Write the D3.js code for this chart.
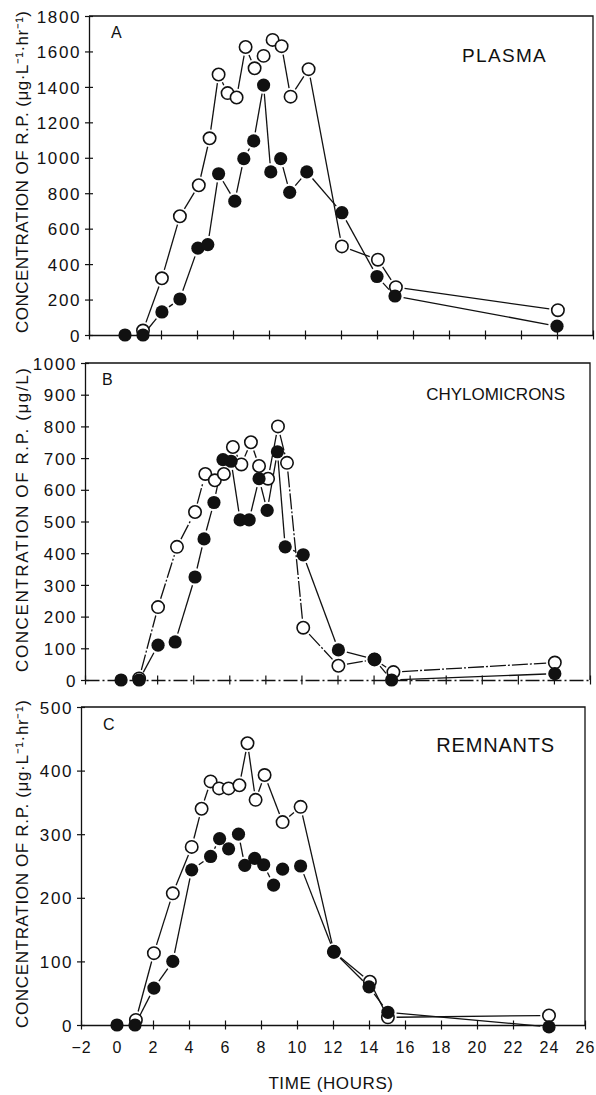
<!DOCTYPE html>
<html>
<head>
<meta charset="utf-8">
<script src="https://cdn.jsdelivr.net/npm/d3@7/dist/d3.min.js"></script>
<style>
  html, body { margin: 0; padding: 0; background: #fff; }
  svg { display: block; }
  text { font-family: "Liberation Sans", Arial, Helvetica, sans-serif; fill: #111; }
</style>
</head>
<body>
<svg id="chart" width="596" height="1095"></svg>
<script>
// ---------------- DATA ----------------
const xTicks = [-2, 0, 2, 4, 6, 8, 10, 12, 14, 16, 18, 20, 22, 24, 26];
const xTickLabels = ["\u22122", "0", "2", "4", "6", "8", "10", "12", "14", "16", "18", "20", "22", "24", "26"];

// Panel A: Plasma
const plasmaTicks = [0, 200, 400, 600, 800, 1000, 1200, 1400, 1600, 1800];
const plasmaOpenT = [1, 2.05, 3.05, 4.1, 4.7, 5.2, 5.7, 6.2, 6.7, 7.2, 7.7, 8.2, 8.7, 9.2, 10.2, 12.05, 14.05, 15.05, 24.05];
const plasmaOpenV = [25, 320, 670, 845, 1110, 1470, 1365, 1340, 1625, 1505, 1575, 1665, 1630, 1345, 1500, 500, 425, 270, 140];
const plasmaFilledT = [0, 1, 2.05, 3.05, 4.05, 4.6, 5.2, 6.1, 6.6, 7.15, 7.7, 8.1, 8.65, 9.15, 10.1, 12.05, 14.0, 15.0, 24.0];
const plasmaFilledV = [0, 0, 130, 203, 490, 510, 910, 755, 995, 1095, 1410, 920, 995, 805, 920, 690, 330, 220, 50];

// Panel B: Chylomicrons
const chyloTicks = [0, 100, 200, 300, 400, 500, 600, 700, 800, 900, 1000];
const chyloOpenT = [1, 2.05, 3.1, 4.1, 4.67, 5.2, 5.7, 6.2, 6.67, 7.2, 7.65, 8.15, 8.7, 9.2, 10.1, 12.05, 14.05, 15.1, 24.05];
const chyloOpenV = [5, 230, 420, 530, 650, 630, 650, 735, 680, 750, 675, 635, 800, 685, 165, 45, 65, 25, 55];
const chyloFilledT = [0, 1, 2.05, 3.0, 4.1, 4.6, 5.15, 5.65, 6.1, 6.6, 7.1, 7.65, 8.1, 8.67, 9.1, 10.1, 12.05, 14.05, 15.0, 24.05];
const chyloFilledV = [0, 0, 110, 120, 325, 445, 560, 695, 690, 505, 505, 635, 535, 720, 420, 395, 95, 65, 0, 20];

// Panel C: Remnants
const remTicks = [0, 100, 200, 300, 400, 500];
const remOpenT = [1.05, 2.05, 3.1, 4.15, 4.7, 5.2, 5.67, 6.2, 6.8, 7.25, 7.7, 8.2, 9.2, 10.2, 12.05, 14.05, 15.05, 24];
const remOpenV = [8, 113, 207, 280, 340, 383, 372, 372, 377, 443, 354, 393, 319, 343, 115, 68, 12, 15];
const remFilledT = [0, 1, 2.05, 3.1, 4.15, 5.2, 5.7, 6.2, 6.75, 7.1, 7.65, 8.15, 8.7, 9.2, 10.2, 12.05, 14.0, 15.05, 24];
const remFilledV = [0, 0, 58, 100, 244, 265, 293, 277, 300, 251, 262, 252, 220, 245, 250, 115, 60, 20, -3];

const panelLetters = ["A", "B", "C"];
const panelTitles = ["PLASMA", "CHYLOMICRONS", "REMNANTS"];
const yLabels = [
  "CONCENTRATION OF R.P. (\u03BCg\u00B7L\u207B\u00B9\u00B7hr\u207B\u00B9)",
  "CONCENTRATION OF R.P. (\u03BCg/L)",
  "CONCENTRATION OF R.P. (\u03BCg\u00B7L\u207B\u00B9\u00B7hr\u207B\u00B9)"
];
const xTitle = "TIME (HOURS)";

// ---------------- LAYOUT ----------------
const svg = d3.select("#chart");
svg.append("rect").attr("width", 596).attr("height", 1095).attr("fill", "#fff");

const panels = [
  { left: 89, right: 593, top: 16, bottom: 335, ticks: plasmaTicks,
    open: [plasmaOpenT, plasmaOpenV], filled: [plasmaFilledT, plasmaFilledV],
    titleX: 547, titleY: 62, titleSize: 19, titleSpacing: 1.3,
    letterX: 111, letterY: 38, labelCenter: 172, labelLen: 322,
    openDash: null, axisDash: null, xLabels: false },
  { left: 85, right: 590, top: 363, bottom: 680, ticks: chyloTicks,
    open: [chyloOpenT, chyloOpenV], filled: [chyloFilledT, chyloFilledV],
    titleX: 565, titleY: 400, titleSize: 17, titleSpacing: 0,
    letterX: 102, letterY: 385, labelCenter: 520, labelLen: 304,
    openDash: "16,2,2,2", axisDash: "14,3,2,3", xLabels: false },
  { left: 81, right: 585, top: 707, bottom: 1025, ticks: remTicks,
    open: [remOpenT, remOpenV], filled: [remFilledT, remFilledV],
    titleX: 555, titleY: 752, titleSize: 20, titleSpacing: 0.8,
    letterX: 103, letterY: 730, labelCenter: 864, labelLen: 328,
    openDash: null, axisDash: null, xLabels: true }
];

const R = 6.2;
const GAP = 2.5;

panels.forEach((p, i) => {
  const g = svg.append("g");
  const x = d3.scaleLinear().domain([-2, 26]).range([p.left, p.right]);
  const yMax = p.ticks[p.ticks.length - 1];
  const y = d3.scaleLinear().domain([0, yMax]).range([p.bottom, p.top]);

  // frame (top and right)
  g.append("path")
    .attr("d", `M${p.left},${p.top}H${p.right}V${p.bottom}`)
    .attr("fill", "none").attr("stroke", "#111").attr("stroke-width", 1.3);

  // bottom axis
  const xa = g.append("g").attr("transform", `translate(0,${p.bottom})`)
    .call(d3.axisBottom(x).tickValues(xTicks).tickSizeInner(5).tickSizeOuter(0)
      .tickFormat((d, k) => p.xLabels ? xTickLabels[k] : ""));
  xa.select(".domain").attr("stroke", "#111").attr("stroke-width", 1.3)
    .attr("stroke-dasharray", p.axisDash);
  xa.selectAll(".tick line").attr("y1", -4.5).attr("y2", 4.5)
    .attr("stroke", "#111").attr("stroke-width", 1.2);
  xa.selectAll(".tick text").attr("y", 0).attr("dy", 28)
    .attr("font-size", 16).attr("letter-spacing", 1)
    .attr("font-family", "'Liberation Sans', Arial, sans-serif").attr("fill", "#111");

  // left axis
  const ya = g.append("g").attr("transform", `translate(${p.left},0)`)
    .call(d3.axisLeft(y).tickValues(p.ticks).tickSizeInner(4).tickSizeOuter(0)
      .tickFormat(d3.format("d")));
  ya.select(".domain").attr("stroke", "#111").attr("stroke-width", 1.3);
  ya.selectAll(".tick line").attr("x1", -4).attr("x2", 4)
    .attr("stroke", "#111").attr("stroke-width", 1.2);
  ya.selectAll(".tick text").attr("x", -8).attr("dy", "0.36em")
    .attr("font-size", 17).attr("letter-spacing", 1.6)
    .attr("font-family", "'Liberation Sans', Arial, sans-serif").attr("fill", "#111");

  // y label
  g.append("text")
    .attr("transform", `translate(28,${p.labelCenter}) rotate(-90)`)
    .attr("text-anchor", "middle")
    .attr("font-size", 17)
    .attr("textLength", p.labelLen)
    .attr("lengthAdjust", "spacing")
    .text(yLabels[i]);

  // panel letter
  g.append("text").attr("x", p.letterX).attr("y", p.letterY)
    .attr("font-size", 16).text(panelLetters[i]);

  // title
  g.append("text").attr("x", p.titleX).attr("y", p.titleY)
    .attr("text-anchor", "end").attr("font-size", p.titleSize)
    .attr("letter-spacing", p.titleSpacing).text(panelTitles[i]);

  // connecting segments with small gaps near markers
  function drawSeries(T, V, dash) {
    const pts = T.map((t, k) => [x(t), y(V[k])]);
    const segs = [];
    for (let k = 0; k < pts.length - 1; k++) {
      const [x1, y1] = pts[k], [x2, y2] = pts[k + 1];
      const dx = x2 - x1, dy = y2 - y1, L = Math.hypot(dx, dy);
      const s = R + GAP;
      if (L > 2 * s + 1) {
        segs.push([x1 + dx * s / L, y1 + dy * s / L, x2 - dx * s / L, y2 - dy * s / L]);
      }
    }
    g.append("g").selectAll("line").data(segs).join("line")
      .attr("x1", d => d[0]).attr("y1", d => d[1])
      .attr("x2", d => d[2]).attr("y2", d => d[3])
      .attr("stroke", "#111").attr("stroke-width", 1.3)
      .attr("stroke-dasharray", dash);
    return pts;
  }
  const openPts = drawSeries(p.open[0], p.open[1], p.openDash);
  const filledPts = drawSeries(p.filled[0], p.filled[1], null);

  g.append("g").selectAll("circle").data(openPts).join("circle")
    .attr("cx", d => d[0]).attr("cy", d => d[1]).attr("r", R)
    .attr("fill", "#fff").attr("stroke", "#111").attr("stroke-width", 1.6);
  g.append("g").selectAll("circle").data(filledPts).join("circle")
    .attr("cx", d => d[0]).attr("cy", d => d[1]).attr("r", R + 0.4)
    .attr("fill", "#111");

  if (p.xLabels) {
    g.append("text").attr("x", 331).attr("y", 1089)
      .attr("text-anchor", "middle").attr("font-size", 17)
      .attr("letter-spacing", 0.6).text(xTitle);
  }
});
</script>
</body>
</html>
